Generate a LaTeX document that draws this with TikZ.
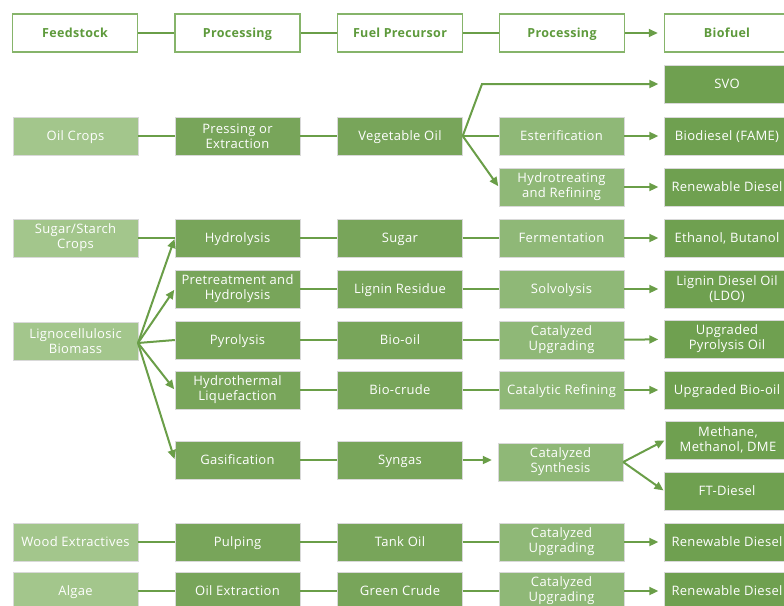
\documentclass[tikz,border=0pt]{standalone}
\usepackage{fontspec}
\setmainfont[LetterSpace=2.5]{Open Sans}
\usetikzlibrary{arrows.meta}
\definecolor{cA}{HTML}{A3C68C}
\definecolor{cB}{HTML}{78A55A}
\definecolor{cC}{HTML}{8FB877}
\definecolor{cD}{HTML}{6FA050}
\definecolor{cLine}{HTML}{6A9E48}
\definecolor{cHead}{HTML}{5E9A3C}
\definecolor{cHeadBorder}{HTML}{86B46A}
\tikzset{
  box/.style={minimum width=125pt, minimum height=38pt, inner sep=0pt, align=center,
    text=white, font=\fontsize{13}{15}\selectfont, draw=white!85!black, line width=0.4pt,
    text height=11pt, text depth=2pt},
  two/.style={text height={}, text depth={}},
  feed/.style={box, fill=cA},
  proc/.style={box, fill=cB},
  prec/.style={box, fill=cB},
  proc2/.style={box, fill=cC},
  fuel/.style={box, fill=cD},
  head/.style={minimum width=125pt, minimum height=38pt, inner sep=0pt, draw=cHeadBorder,
    line width=1.5pt, fill=white, text=cHead, font=\bfseries\fontsize{12.5}{14}\selectfont,
    text height=11pt, text depth=2pt},
  conn/.style={draw=cLine, line width=2pt},
  arr/.style={conn, -{Triangle[length=9pt,width=8pt]}, shorten >=6pt},
  farr/.style={conn, -{Triangle[length=9pt,width=8pt]}, shorten >=1pt}
}
\begin{document}
\begin{tikzpicture}[x=1pt,y=-1pt]
\useasboundingbox (0,0) rectangle (784,605);
\clip (0,0) rectangle (784,605);
% header
\node[head] (h1) at (75,33) {Feedstock};
\node[head] (h2) at (237.5,33) {Processing};
\node[head] (h3) at (400,33) {Fuel Precursor};
\node[head] (h4) at (562,33) {Processing};
\node[head] (h5) at (727,33) {Biofuel};
\draw[conn] (h1) -- (h2);
\draw[conn] (h2) -- (h3);
\draw[conn] (h3) -- (h4);
\draw[arr] (h4) -- (h5);
% oil crops
\node[fuel] (svo) at (727,84) {SVO};
\node[feed] (oil) at (75.5,136) {Oil Crops};
\node[proc, two] (press) at (237.5,136) {Pressing or\\Extraction};
\node[prec] (veg) at (400,136) {Vegetable Oil};
\node[proc2] (ester) at (561.5,136) {Esterification};
\node[fuel] (bio) at (727,136) {Biodiesel (FAME)};
\node[proc2, two] (hydro) at (561.5,187) {Hydrotreating\\and Refining};
\node[fuel] (rd1) at (727,187) {Renewable Diesel};
\coordinate (bend) at (482,84);
\draw[conn] (oil) -- (press);
\draw[conn] (press) -- (veg);
\draw[conn] (veg) -- (ester);
\draw[arr] (ester) -- (bio);
\draw[farr, shorten >=6pt] (veg.east) -- (bend) -- (svo.west);
\draw[farr] (veg.east) -- (hydro.west);
\draw[arr] (hydro) -- (rd1);
% sugar
\node[feed, two] (sug) at (75.5,238) {Sugar/Starch\\Crops};
\node[proc] (hyd) at (237.5,238) {Hydrolysis};
\node[prec] (sugar) at (400,238) {Sugar};
\node[proc2] (ferm) at (561.5,238) {Fermentation};
\node[fuel] (eth) at (727,238) {Ethanol, Butanol};
\draw[conn] (sug) -- (hyd);
\draw[conn] (hyd) -- (sugar);
\draw[conn] (sugar) -- (ferm);
\draw[arr] (ferm) -- (eth);
% lignocellulosic
\node[feed, two] (lig) at (75.5,341) {Lignocellulosic\\Biomass};
\node[proc, two] (pre) at (237.5,289) {Pretreatment and\\Hydrolysis};
\node[prec] (lres) at (400,289) {Lignin Residue};
\node[proc2] (solv) at (561.5,289) {Solvolysis};
\node[fuel, two] (ldo) at (727,289) {Lignin Diesel Oil\\(LDO)};
\node[proc] (pyr) at (237.5,340) {Pyrolysis};
\node[prec] (boil) at (400,340) {Bio-oil};
\node[proc2, two] (cup) at (561.5,340) {Catalyzed\\Upgrading};
\node[fuel, two] (upo) at (727,339) {Upgraded\\Pyrolysis Oil};
\node[proc, two] (htl) at (237.5,390) {Hydrothermal\\Liquefaction};
\node[prec] (bcr) at (400,390) {Bio-crude};
\node[proc2] (cref) at (561.5,390) {Catalytic Refining};
\node[fuel] (ubo) at (727,390) {Upgraded Bio-oil};
\node[proc] (gas) at (237.5,460) {Gasification};
\node[prec] (syn) at (400,460) {Syngas};
\node[proc2, two] (csyn) at (560.5,462) {Catalyzed\\Synthesis};
\node[fuel, two] (meth) at (728,440) {Methane,\\Methanol, DME};
\node[fuel] (ftd) at (727,491) {FT-Diesel};
\coordinate (ligE) at (138,343);
\draw[farr] (ligE) -- (hyd.west);
\draw[farr] (ligE) -- (pre.west);
\draw[conn] (ligE) -- (pyr.west);
\draw[farr] (ligE) -- (htl.west);
\draw[farr] (ligE) -- (gas.west);
\draw[conn] (pre) -- (lres);
\draw[conn] (lres) -- (solv);
\draw[arr] (solv) -- (ldo);
\draw[conn] (pyr) -- (boil);
\draw[conn] (boil) -- (cup);
\draw[arr] (cup) -- (upo);
\draw[conn] (htl) -- (bcr);
\draw[conn] (bcr) -- (cref);
\draw[arr] (cref) -- (ubo);
\draw[conn] (gas) -- (syn);
\draw[arr] (syn.east) -- (syn.east -| csyn.west);
\draw[farr] (csyn.east) -- (meth.west);
\draw[farr] (csyn.east) -- (ftd.west);
% wood
\node[feed] (wood) at (75.5,542) {Wood Extractives};
\node[proc] (pulp) at (237.5,542) {Pulping};
\node[prec] (tank) at (400,542) {Tank Oil};
\node[proc2, two] (cup2) at (561.5,542) {Catalyzed\\Upgrading};
\node[fuel] (rd2) at (727,542) {Renewable Diesel};
\draw[conn] (wood) -- (pulp);
\draw[conn] (pulp) -- (tank);
\draw[conn] (tank) -- (cup2);
\draw[arr] (cup2) -- (rd2);
% algae
\node[feed] (alg) at (75.5,591) {Algae};
\node[proc] (oext) at (237.5,591) {Oil Extraction};
\node[prec] (gcr) at (400,591) {Green Crude};
\node[proc2, two] (cup3) at (561.5,591) {Catalyzed\\Upgrading};
\node[fuel] (rd3) at (727,591) {Renewable Diesel};
\draw[conn] (alg) -- (oext);
\draw[conn] (oext) -- (gcr);
\draw[conn] (gcr) -- (cup3);
\draw[arr] (cup3) -- (rd3);
\end{tikzpicture}
\end{document}
